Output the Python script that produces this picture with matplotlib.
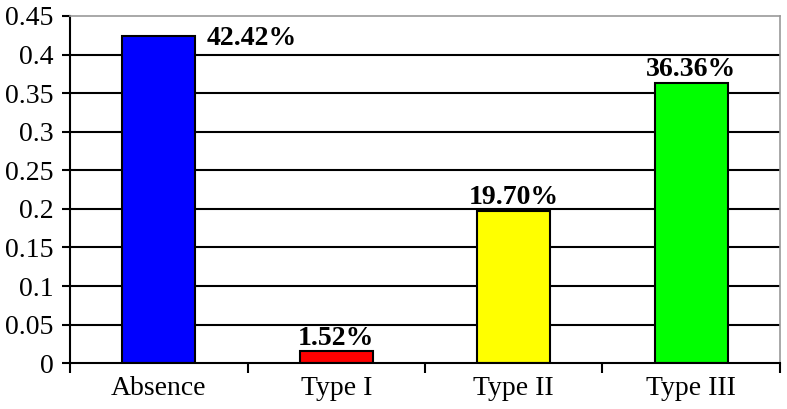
import numpy as np
import matplotlib.pyplot as plt

plt.rcParams['font.family'] = 'Liberation Serif'

categories = ['Absence', 'Type I', 'Type II', 'Type III']
values = [0.4242, 0.0152, 0.1970, 0.3636]
labels = ['42.42%', '1.52%', '19.70%', '36.36%']
colors = ['#0000ff', '#ff0000', '#ffff00', '#00ff00']

fig = plt.figure(figsize=(7.87, 4.09), dpi=100)
ax = fig.add_axes([0.089, 0.112, 0.902, 0.849])

x = np.arange(len(categories))
for yv in np.arange(0.05, 0.45, 0.05):
    ax.axhline(yv, color='k', lw=1.5, zorder=1)
ax.bar(x, values, width=0.41, color=colors, edgecolor='k', lw=1.5, zorder=2)

for i, (v, s) in enumerate(zip(values, labels)):
    if i == 0:
        ax.text(i + 0.27, v - 0.003, s, ha='left', va='center',
                fontsize=20, fontweight='bold')
    else:
        ax.text(i, v + 0.001, s, ha='center', va='bottom',
                fontsize=20, fontweight='bold')

ax.set_xlim(-0.5, 3.5)
ax.set_ylim(0, 0.45)
ax.set_yticks(np.arange(0, 0.451, 0.05))
ax.set_yticklabels(['0', '0.05', '0.1', '0.15', '0.2', '0.25', '0.3', '0.35', '0.4', '0.45'])
ax.set_xticks(np.arange(-0.5, 3.6, 1))
ax.set_xticklabels([])
ax.set_xticks(x, minor=True)
ax.set_xticklabels(categories, minor=True)
ax.tick_params(axis='x', which='minor', length=0, pad=9, labelsize=20)
ax.tick_params(axis='x', which='major', length=7, width=1.5, direction='out')
ax.tick_params(axis='y', length=6, width=1.5, labelsize=20, pad=6, direction='out')

for side in ['left', 'bottom']:
    ax.spines[side].set_linewidth(1.5)
for side in ['top', 'right']:
    ax.spines[side].set_color('#999999')
    ax.spines[side].set_linewidth(1.2)

fig.savefig('out.png', dpi=100)
